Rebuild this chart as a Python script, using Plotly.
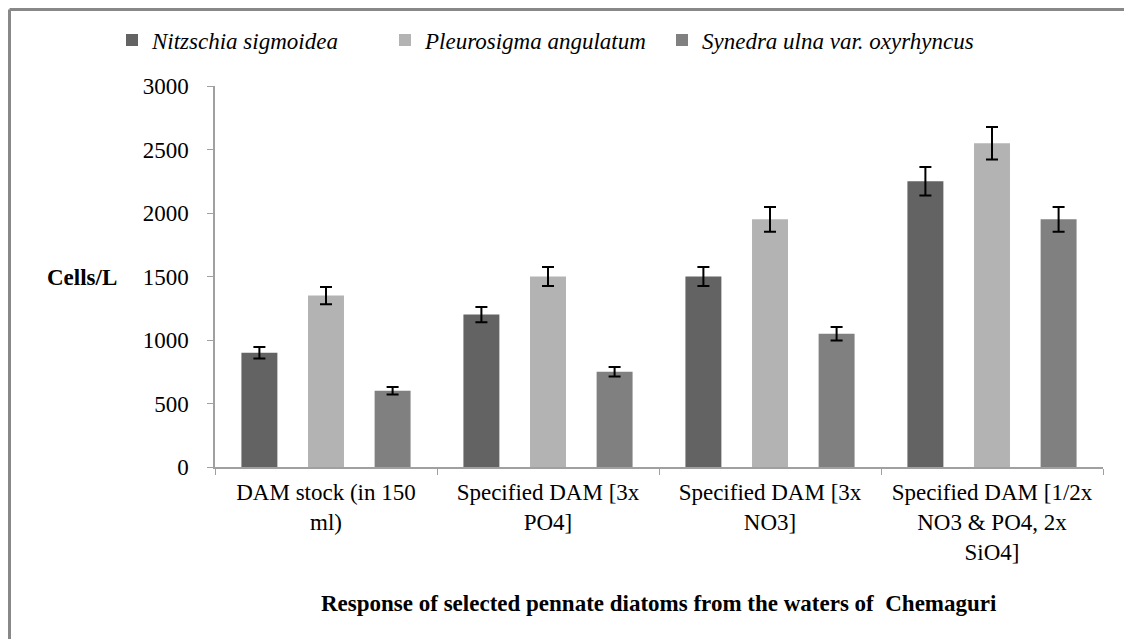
import plotly.graph_objects as go

categories = ["DAM stock (in 150<br>ml)", "Specified DAM [3x<br>PO4]",
              "Specified DAM [3x<br>NO3]", "Specified DAM [1/2x<br>NO3 & PO4, 2x<br>SiO4]"]
series_names = ["Nitzschia sigmoidea", "Pleurosigma angulatum", "Synedra ulna var. oxyrhyncus"]
nitzschia = [900, 1200, 1500, 2250]
pleurosigma = [1350, 1500, 1950, 2550]
synedra = [600, 750, 1050, 1950]
nitzschia_err = [45, 60, 75, 113]
pleurosigma_err = [68, 75, 98, 128]
synedra_err = [30, 38, 53, 98]
colors = ["#636363", "#b3b3b3", "#808080"]

FONT = "Liberation Serif, Times New Roman, serif"
FS = 23
OFF = 8  # page body margin
W, H = 1132 - OFF, 639 - OFF
# plot area in screen pixels
X0, X1, Y0, Y1 = 215, 1103, 86, 467
L, R, T, B = X0 - OFF, W - (X1 - OFF), Y0 - OFF, H - (Y1 - OFF)
pw, ph = W - L - R, H - T - B

def px(x):
    return (x - X0) / pw

def py(y):
    return (Y1 - y) / ph

legend_x = [112, 385, 662]
fig = go.Figure()
for i, (name, vals, errs, col) in enumerate(zip(series_names, [nitzschia, pleurosigma, synedra],
                                 [nitzschia_err, pleurosigma_err, synedra_err], colors)):
    fig.add_trace(go.Bar(
        x=categories, y=vals, name="<i>" + name + "</i>",
        marker=dict(color=col, line=dict(width=0)),
        error_y=dict(type="data", array=errs, visible=True, color="black",
                     thickness=2, width=6),
        legend="legend" if i == 0 else "legend%d" % (i + 1),
    ))

leg = dict(orientation="h", xanchor="left", yanchor="middle",
           font=dict(family=FONT, size=FS, color="black"),
           bgcolor="rgba(0,0,0,0)", itemwidth=30)

fig.update_layout(
    width=W, height=H,
    margin=dict(l=L, r=R, t=T, b=B, autoexpand=False),
    paper_bgcolor="white", plot_bgcolor="white",
    barmode="group", bargap=0.1, bargroupgap=0.46,
    font=dict(family=FONT, size=FS, color="black"),
    showlegend=True,
    legend=dict(leg, x=px(legend_x[0]), y=py(40)),
    legend2=dict(leg, x=px(legend_x[1]), y=py(40)),
    legend3=dict(leg, x=px(legend_x[2]), y=py(40)),
    xaxis=dict(showline=True, linecolor="#a0a0a0", linewidth=1.5,
               ticks="outside", ticklen=6, tickcolor="#a0a0a0", tickson="boundaries",
               tickfont=dict(family=FONT, size=FS, color="black"), showgrid=False,
               ticklabelstandoff=4),
    yaxis=dict(range=[0, 3000], dtick=500, showline=True, linecolor="#a0a0a0", linewidth=1.5,
               ticks="outside", ticklen=6, tickcolor="#a0a0a0", showgrid=False, zeroline=False,
               tickfont=dict(family=FONT, size=FS, color="black"), ticklabelstandoff=14),
    annotations=[
        dict(text="<b>Cells/L</b>", x=px(119), y=py(277), xref="paper", yref="paper",
             xanchor="right", yanchor="middle",
             showarrow=False, font=dict(family=FONT, size=FS, color="black")),
        dict(text="<b>Response of selected pennate diatoms from the waters of  Chemaguri</b>",
             x=px(659), y=py(603), xref="paper", yref="paper", xanchor="center", yanchor="middle",
             showarrow=False, font=dict(family=FONT, size=FS, color="black")),
    ],
    shapes=[
        dict(type="line", xref="paper", yref="paper", x0=px(9.5), x1=px(1140), y0=py(9.5), y1=py(9.5),
             line=dict(color="#888888", width=3)),
        dict(type="line", xref="paper", yref="paper", x0=px(9.5), x1=px(9.5), y0=py(9.5), y1=py(645),
             line=dict(color="#888888", width=3)),
    ],
)

fig.write_html("out.html")
